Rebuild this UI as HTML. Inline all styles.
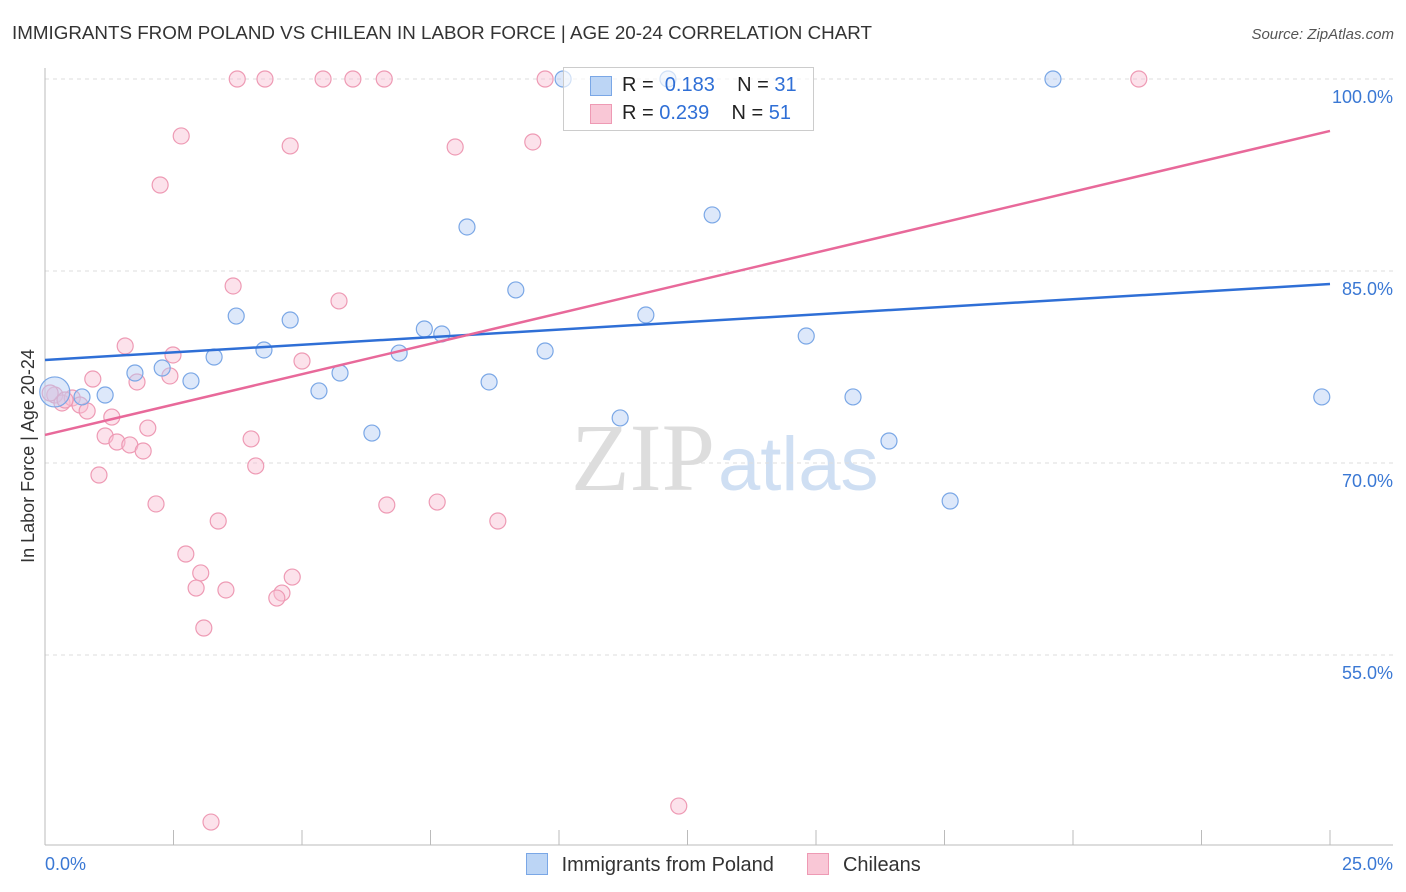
<!DOCTYPE html>
<html><head><meta charset="utf-8">
<style>
body{margin:0;background:#fff;font-family:"Liberation Sans",sans-serif;}
#wrap{position:relative;width:1406px;height:892px;overflow:hidden;}
</style></head>
<body>
<div id="wrap">
<svg id="svg" width="1406" height="892" xmlns="http://www.w3.org/2000/svg">
<text x="12" y="39" font-size="18.8" fill="#333">IMMIGRANTS FROM POLAND VS CHILEAN IN LABOR FORCE | AGE 20-24 CORRELATION CHART</text>
<text x="1394" y="39" font-size="15" fill="#555" font-style="italic" text-anchor="end">Source: ZipAtlas.com</text>
<text x="715" y="490" font-size="96" fill="#ddd" text-anchor="end" font-family="Liberation Serif">ZIP</text>
<text x="718" y="490" font-size="76" fill="#cfdff3">atlas</text>
<text transform="translate(34,456) rotate(-90)" font-size="18" fill="#333" text-anchor="middle">In Labor Force | Age 20-24</text>
<g id="grid"></g><g id="marks"></g>
</svg>
<div style="position:absolute;left:563px;top:67px;width:249px;height:62px;border:1px solid #ccc;background:rgba(255,255,255,0.65);font-size:20px;">
<div style="position:absolute;left:26px;top:8px;width:20px;height:18px;background:#bcd5f5;border:1px solid #7aa7e6"></div>
<div style="position:absolute;left:58px;top:6px;color:#222">R = &nbsp;<span style="color:#2f6fd6">0.183</span>&nbsp;&nbsp;&nbsp; N = <span style="color:#2f6fd6">31</span></div>
<div style="position:absolute;left:26px;top:36px;width:20px;height:18px;background:#f9c7d6;border:1px solid #ee9ab4"></div>
<div style="position:absolute;left:58px;top:34px;color:#222">R = <span style="color:#2f6fd6">0.239</span>&nbsp;&nbsp;&nbsp; N = <span style="color:#2f6fd6">51</span></div>
</div>
<div style="position:absolute;left:526px;top:853px;font-size:20px;color:#333;white-space:nowrap">
<span style="display:inline-block;width:20px;height:20px;background:#bcd5f5;border:1px solid #7aa7e6;vertical-align:-4px"></span>
<span style="margin-left:8px">Immigrants from Poland</span>
<span style="display:inline-block;width:20px;height:20px;background:#f9c7d6;border:1px solid #ee9ab4;vertical-align:-4px;margin-left:28px"></span>
<span style="margin-left:8px">Chileans</span>
</div>
</div>
<script>
const yTicks=[100,85,70,55];
const yTickLabels=["100.0%","85.0%","70.0%","55.0%"];
const xEndLabels=["0.0%","25.0%"];
const polandX=[0.19,0.72,1.17,1.75,2.28,2.84,3.29,3.72,4.26,4.77,5.33,5.74,6.36,6.89,7.38,7.72,8.21,8.64,9.16,9.73,10.08,11.19,11.69,12.98,14.81,15.72,16.42,17.61,19.61,24.84,12.12];
const polandY=[75.55,75.16,75.31,77.03,77.42,76.41,78.28,81.48,78.83,81.17,75.63,77.03,72.34,78.59,80.47,80.08,88.44,76.33,83.52,78.75,100,73.52,81.56,89.38,79.92,75.16,71.72,67.03,100,75.16,100];
const chileX=[3.74,4.28,5.41,5.99,6.60,9.73,21.28,2.65,4.77,7.98,9.49,2.24,3.66,5.72,1.56,2.49,5.00,1.79,2.43,0.93,0.19,0.33,0.53,0.68,0.82,1.30,1.17,1.40,1.65,1.91,2.00,4.01,4.10,1.05,2.16,3.37,6.65,7.63,8.81,2.74,3.03,2.94,3.52,4.81,4.61,4.51,3.09,12.33,3.23,0.10,0.39];
const chileY=[100,100,100,100,100,100,100,95.55,94.77,94.69,95.08,91.72,83.83,82.66,79.14,78.44,77.97,76.33,76.80,76.56,75.31,74.69,75.08,74.53,74.06,73.59,72.11,71.64,71.41,70.94,72.73,71.88,69.77,69.06,66.80,65.47,66.72,66.95,65.47,62.89,61.41,60.23,60.08,61.09,59.84,59.45,57.11,43.20,41.95,75.47,74.92];
const polandTrend=[78.05,83.98];
const chileTrend=[72.19,95.94];
const X=v=>45+v/25*1285, Y=v=>79+(100-v)/15*192;
const NS="http://www.w3.org/2000/svg";
function mk(p,t,a){const e=document.createElementNS(NS,t);for(const k in a)e.setAttribute(k,a[k]);p.appendChild(e);return e;}
const g=document.getElementById('grid'),m=document.getElementById('marks');
yTicks.forEach((t,i)=>{
 const l=mk(g,'line',{x1:45,x2:1393,y1:Y(t),y2:Y(t),stroke:'#ddd','stroke-dasharray':'4,4'});
 
 const tx=mk(g,'text',{x:1393,y:Y(t)+24,'font-size':18,fill:'#3a78d4','text-anchor':'end'});tx.textContent=yTickLabels[i];
 
});
let ax=mk(g,'line',{x1:45,x2:45,y1:68,y2:845,stroke:'#bbb'});
ax=mk(g,'line',{x1:45,x2:1393,y1:845,y2:845,stroke:'#bbb'});
for(let i=0;i<=10;i++){const t=mk(g,'line',{x1:X(i*2.5),x2:X(i*2.5),y1:830,y2:845,stroke:'#bbb'});}
let t1=mk(g,'text',{x:45,y:870,'font-size':18,fill:'#3a78d4'});t1.textContent=xEndLabels[0];
t1=mk(g,'text',{x:1393,y:870,'font-size':18,fill:'#3a78d4','text-anchor':'end'});t1.textContent=xEndLabels[1];
chileX.forEach((x,i)=>{const c=mk(m,'circle',{cx:X(x),cy:Y(chileY[i]),r:8,fill:'rgba(249,190,210,0.45)',stroke:'#ee9ab4','stroke-width':1.2});
 });
polandX.forEach((x,i)=>{const c=mk(m,'circle',{cx:X(x),cy:Y(polandY[i]),r:i==0?15:8,fill:'rgba(180,205,245,0.45)',stroke:'#7aa7e6','stroke-width':1.2});
 });
let tl=mk(m,'line',{x1:X(0),y1:Y(polandTrend[0]),x2:X(25),y2:Y(polandTrend[1]),stroke:'#2f6fd6','stroke-width':2.5});

tl=mk(m,'line',{x1:X(0),y1:Y(chileTrend[0]),x2:X(25),y2:Y(chileTrend[1]),stroke:'#e8699a','stroke-width':2.5});

</script>
</body></html>
